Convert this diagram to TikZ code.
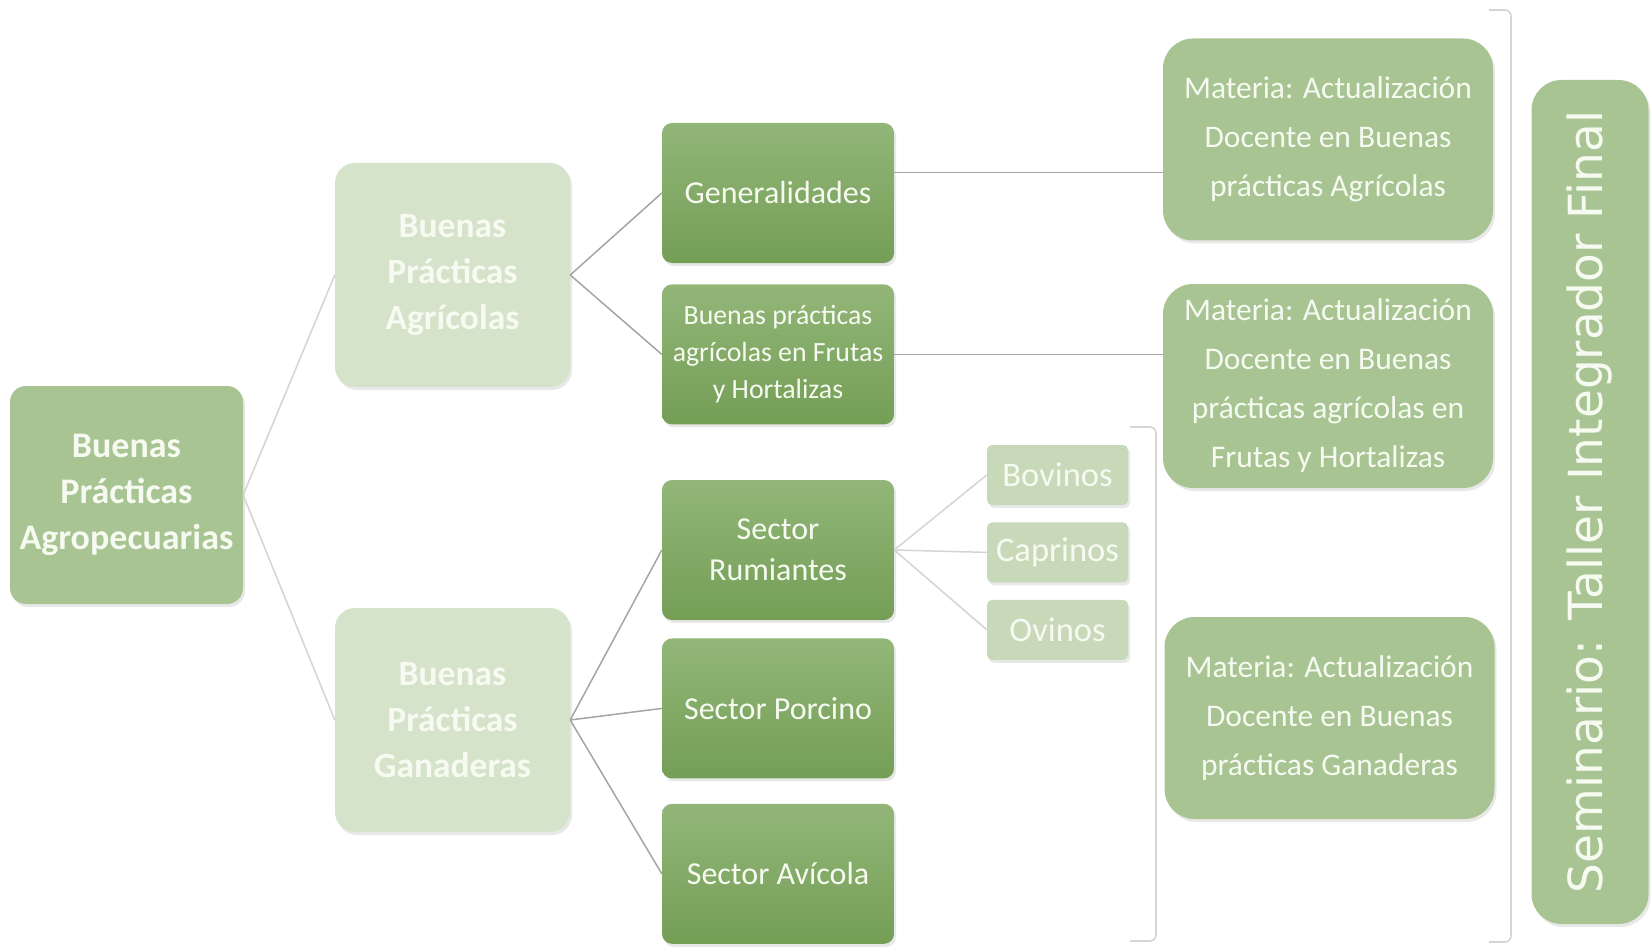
\documentclass[tikz,border=0pt]{standalone}
\usepackage{fontspec}
\setmainfont{Carlito}
\newfontfamily\semfont{DejaVu Sans}
\usetikzlibrary{positioning,shadows}

\definecolor{rootgreen}{RGB}{168,196,146}
\definecolor{palegreen}{RGB}{213,227,203}
\definecolor{darktop}{RGB}{146,182,120}
\definecolor{darkbot}{RGB}{116,158,86}
\definecolor{leafgreen}{RGB}{199,217,185}
\definecolor{txtwhite}{RGB}{246,250,241}
\definecolor{linkgray}{RGB}{165,165,165}
\definecolor{faintgray}{RGB}{212,212,212}

\begin{document}
\begin{tikzpicture}[x=1pt,y=-1pt,
    box/.style={rectangle, align=center, text=txtwhite, inner sep=0pt,
      drop shadow={opacity=0.18, shadow xshift=2pt, shadow yshift=-3pt}},
    rootbox/.style={box, fill=rootgreen, rounded corners=16pt,
      minimum width=233pt, minimum height=218pt,
      font=\fontsize{36}{46}\selectfont\bfseries},
    areabox/.style={box, fill=palegreen, rounded corners=20pt,
      minimum width=235pt, minimum height=224pt,
      font=\fontsize{35.5}{46}\selectfont\bfseries},
    topicbox/.style={box, top color=darktop, bottom color=darkbot, rounded corners=10pt,
      minimum width=232pt, minimum height=140pt,
      font=\fontsize{32}{41}\selectfont},
    leafbox/.style={box, fill=leafgreen, rounded corners=5pt,
      minimum width=141pt, minimum height=60pt,
      font=\fontsize{34.5}{40}\selectfont},
    matbox/.style={box, fill=rootgreen, rounded corners=30pt,
      minimum width=330pt, minimum height=202pt,
      font=\fontsize{31.5}{49}\selectfont},
    link/.style={draw=linkgray, line width=1.5pt},
    faint/.style={draw=faintgray, line width=1.5pt},
    bracket/.style={draw=faintgray, line width=1.6pt, rounded corners=6pt}
  ]
  \useasboundingbox (0,0) rectangle (1652,952);

  % first levels
  \node (root) [rootbox] at (126.5,495) {Buenas\\Prácticas\\Agropecuarias};
  \node (bpa) [areabox] at (452.5,275) {Buenas\\Prácticas\\Agrícolas};
  \node (bpg) [areabox] at (452.5,720) {Buenas\\Prácticas\\Ganaderas};

  % topics
  \node (gen) [topicbox] at (778,193) {Generalidades};
  \node (fru) [topicbox, below=21pt of gen, font=\fontsize{27.8}{37}\selectfont]
    {Buenas prácticas\\agrícolas en Frutas\\y Hortalizas};
  \node (rum) [topicbox] at (778,550) {Sector\\Rumiantes};
  \node (por) [topicbox, below=18pt of rum] {Sector Porcino};
  \node (avi) [topicbox, below=25pt of por] {Sector Avícola};

  % species
  \node (bov) [leafbox] at (1057.5,475) {Bovinos};
  \node (cap) [leafbox, below=17pt of bov] {Caprinos};
  \node (ovi) [leafbox, below=17pt of cap] {Ovinos};

  % subjects
  \node (mat1) [matbox] at (1328,139.5) {Materia: Actualización\\Docente en Buenas\\prácticas Agrícolas};
  \node (mat2) [matbox, minimum height=204pt] at (1328,386) {Materia: Actualización\\Docente en Buenas\\prácticas agrícolas en\\Frutas y Hortalizas};
  \node (mat3) [matbox] at (1329.5,718) {Materia: Actualización\\Docente en Buenas\\prácticas Ganaderas};

  \node (sem) [box, fill=rootgreen, rounded corners=30pt, rotate=90,
    minimum width=844pt, minimum height=117pt,
    font=\semfont\fontsize{47}{52}\selectfont] at (1590,502)
    {Seminario: Taller Integrador Final};

  % connectors
  \draw[faint] (root.east) -- (bpa.west);
  \draw[faint] (root.east) -- (bpg.west);
  \draw[link] (bpa.east) -- (gen.west);
  \draw[link] (bpa.east) -- (fru.west);
  \draw[link] (bpg.east) -- (rum.west);
  \draw[link] (bpg.east) -- (por.west);
  \draw[link] (bpg.east) -- (avi.west);
  \draw[faint] (rum.east) -- (bov.west);
  \draw[faint] (rum.east) -- (cap.west);
  \draw[faint] (rum.east) -- (ovi.west);
  \draw[link] (gen.10) -- (gen.10 -| mat1.west);
  \draw[link] (fru.east) -- (fru.east -| mat2.west);

  % brackets
  \draw[bracket] (1130,427) -| (1156,941) -- (1130,941);
  \draw[bracket] (1489,10) -| (1511,942) -- (1489,942);
\end{tikzpicture}
\end{document}
